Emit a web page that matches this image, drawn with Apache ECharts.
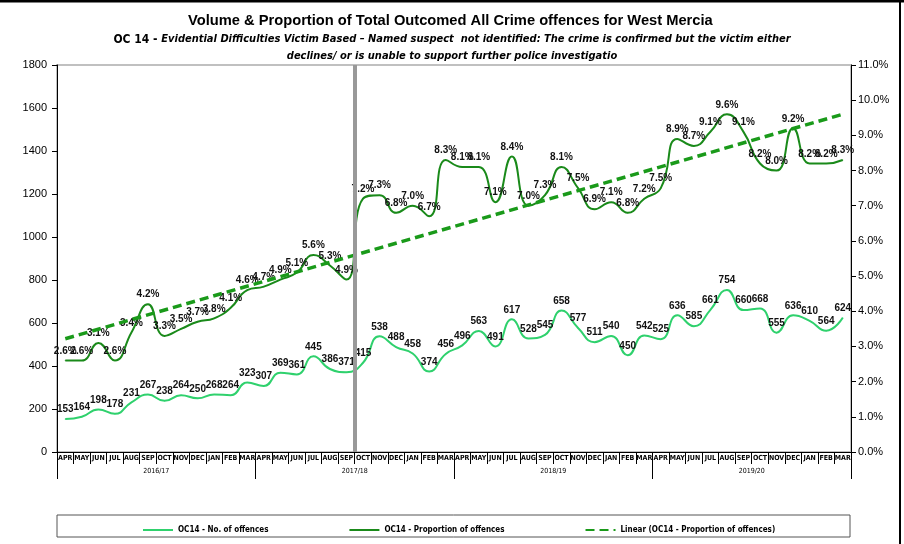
<!DOCTYPE html>
<html>
<head>
<meta charset="utf-8">
<script src="https://cdn.jsdelivr.net/npm/echarts@6/dist/echarts.min.js"></script>
<style>
  html, body { margin: 0; padding: 0; background: #fff; }
  #chart { width: 904px; height: 544px; }
</style>
</head>
<body>
<div id="chart"></div>
<script>
// months Apr 2016 .. Mar 2020
var months = ["APR", "MAY", "JUN", "JUL", "AUG", "SEP", "OCT", "NOV", "DEC", "JAN", "FEB", "MAR"];
var years = ["2016/17", "2017/18", "2018/19", "2019/20"];
var offences = [
  153, 164, 198, 178, 231, 267, 238, 264, 250, 268, 264, 323,
  307, 369, 361, 445, 386, 371, 415, 538, 488, 458, 374, 456,
  496, 563, 491, 617, 528, 545, 658, 577, 511, 540, 450, 542,
  525, 636, 585, 661, 754, 660, 668, 555, 636, 610, 564, 624
];
var proportion = [
  2.6, 2.6, 3.1, 2.6, 3.4, 4.2, 3.3, 3.5, 3.7, 3.8, 4.1, 4.6,
  4.7, 4.9, 5.1, 5.6, 5.3, 4.9, 7.2, 7.3, 6.8, 7.0, 6.7, 8.3,
  8.1, 8.1, 7.1, 8.4, 7.0, 7.3, 8.1, 7.5, 6.9, 7.1, 6.8, 7.2,
  7.5, 8.9, 8.7, 9.1, 9.6, 9.1, 8.2, 8.0, 9.2, 8.2, 8.2, 8.3
];
// linear trend end points
var trendEnds = [3.22, 9.6];
var breakAt = 18; // grey divider before Oct 2017

var categories = [];
years.forEach(function (y) { months.forEach(function (m) { categories.push(m); }); });
var nMonths = categories.length;

var FONT = "Liberation Sans, Arial, sans-serif";
var NARROW = "Liberation Sans Narrow, DejaVu Sans Condensed, Arial Narrow, sans-serif";

var myChart = echarts.init(document.getElementById("chart"));
var option = {
  animation: false,
  backgroundColor: "#fff",
  title: [
    {
      text: "Volume & Proportion of Total Outcomed All Crime offences for West Mercia",
      left: 183,
      top: 8,
      textStyle: { fontFamily: FONT, fontSize: 14.7, fontWeight: "bold", color: "#000" }
    },
    {
      text: "{a|OC 14 - }{b|Evidential Difficulties Victim Based \u2013 Named suspect  not identified: The crime is confirmed but the victim either}\n{b|declines/ or is unable to support further police investigatio}",
      left: "center",
      top: 26,
      textStyle: {
        align: "center",
        rich: {
          a: { fontFamily: NARROW, fontSize: 12, fontWeight: "bold", color: "#000", lineHeight: 17 },
          b: { fontFamily: NARROW, fontSize: 11, fontWeight: "bold", fontStyle: "italic", color: "#000", lineHeight: 17 }
        }
      }
    }
  ],
  grid: {
    left: 57, right: 53, top: 65, bottom: 92,
    show: true, borderColor: "#c0c0c0", borderWidth: 2
  },
  legend: {
    left: 137,
    top: 521,
    itemGap: 80,
    itemWidth: 30,
    itemHeight: 10,
    itemStyle: { opacity: 0 },
    textStyle: { fontFamily: NARROW, fontSize: 8, fontWeight: "bold", color: "#000" },
    data: ["OC14 - No. of offences", "OC14 - Proportion of offences", "Linear (OC14 - Proportion of offences)"]
  },
  graphic: [
    { type: "rect", shape: { x: 57, y: 515, width: 793, height: 22 }, style: { fill: "none", stroke: "#555", lineWidth: 1 } },
    { type: "line", shape: { x1: 0, y1: 1, x2: 904, y2: 1 }, style: { stroke: "#000", lineWidth: 3 } },
    { type: "line", shape: { x1: 900, y1: 0, x2: 900, y2: 544 }, style: { stroke: "#000", lineWidth: 2 } }
  ],
  xAxis: [
    {
      type: "category",
      data: categories,
      position: "bottom",
      axisLine: { lineStyle: { color: "#000", width: 1 } },
      axisTick: { show: true, interval: 0, length: 12, lineStyle: { color: "#000" } },
      axisLabel: { interval: 0, margin: 3, fontFamily: NARROW, fontSize: 7, fontWeight: "bold", color: "#000" }
    },
    {
      type: "category",
      data: years,
      position: "bottom",
      axisLine: { show: false },
      axisTick: { show: true, interval: 0, length: 27, lineStyle: { color: "#000" } },
      axisLabel: { interval: 0, margin: 16, fontFamily: NARROW, fontSize: 7, color: "#000" }
    },
    { type: "value", min: 0, max: nMonths, show: false }
  ],
  yAxis: [
    {
      type: "value",
      min: 0, max: 1800, interval: 200,
      axisLine: { show: true, lineStyle: { color: "#000" } },
      axisTick: { show: true, length: 5, lineStyle: { color: "#000" } },
      splitLine: { show: false },
      axisLabel: {
        fontFamily: FONT, fontSize: 11, color: "#000", margin: 10,
        formatter: function (v) { return String(v); }
      }
    },
    {
      type: "value",
      min: 0, max: 11, interval: 1,
      position: "right",
      axisLine: { show: true, lineStyle: { color: "#000" } },
      axisTick: { show: true, length: 5, lineStyle: { color: "#000" } },
      splitLine: { show: false },
      axisLabel: {
        fontFamily: FONT, fontSize: 11, color: "#000", margin: 7,
        formatter: function (v) { return v.toFixed(1) + "%"; }
      }
    }
  ],
  series: [
    {
      name: "OC14 - No. of offences",
      type: "line",
      data: offences,
      smooth: 0.5,
      symbol: "circle",
      symbolSize: 1,
      lineStyle: { color: "#2fd16d", width: 2 },
      itemStyle: { color: "#2fd16d" },
      label: { show: true, position: "top", distance: 4, fontFamily: FONT, fontSize: 10, fontWeight: "bold", color: "#111" },
      z: 3
    },
    {
      name: "OC14 - Proportion of offences",
      type: "line",
      yAxisIndex: 1,
      data: proportion,
      smooth: 0.5,
      symbol: "circle",
      symbolSize: 1,
      lineStyle: { color: "#1a8a1a", width: 2 },
      itemStyle: { color: "#1a8a1a" },
      label: {
        show: true, position: "top", distance: 4, fontFamily: FONT, fontSize: 10, fontWeight: "bold", color: "#111",
        formatter: function (p) { return p.value.toFixed(1) + "%"; }
      },
      z: 3
    },
    {
      name: "Linear (OC14 - Proportion of offences)",
      type: "line",
      yAxisIndex: 1,
      data: [[0, trendEnds[0]], [nMonths - 1, trendEnds[1]]],
      symbol: "none",
      lineStyle: { color: "#1a9a1a", width: 3.5, type: [9, 5] },
      itemStyle: { color: "#1a9a1a" },
      z: 4
    },
    {
      type: "line",
      xAxisIndex: 2,
      data: [[breakAt, 0]],
      symbol: "none",
      silent: true,
      markLine: {
        silent: true,
        symbol: "none",
        label: { show: false },
        lineStyle: { color: "#999", width: 4, type: "solid" },
        data: [{ xAxis: breakAt }]
      }
    }
  ]
};
myChart.setOption(option);
</script>
</body>
</html>
